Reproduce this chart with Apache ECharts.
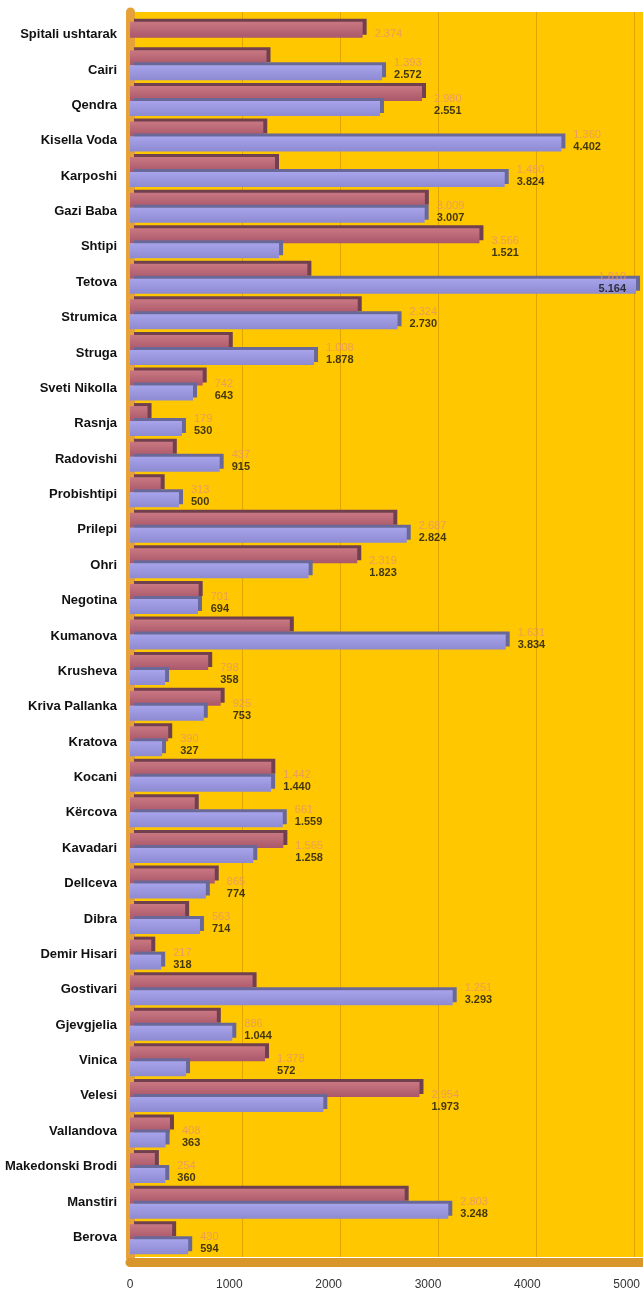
<!DOCTYPE html>
<html>
<head>
<meta charset="utf-8">
<title>Spitalet</title>
<script src="https://cdn.jsdelivr.net/npm/echarts@6/dist/echarts.min.js"></script>
<style>
  html, body { margin: 0; padding: 0; background: #fff; }
  #main { width: 643px; height: 1295px; }
</style>
</head>
<body>
<div id="main"></div>
<script>
var categories = ["Spitali ushtarak", "Cairi", "Qendra", "Kisella Voda", "Karposhi", "Gazi Baba", "Shtipi",
  "Tetova", "Strumica", "Struga", "Sveti Nikolla", "Rasnja", "Radovishi", "Probishtipi", "Prilepi", "Ohri",
  "Negotina", "Kumanova", "Krusheva", "Kriva Pallanka", "Kratova", "Kocani", "Kërcova", "Kavadari",
  "Dellceva", "Dibra", "Demir Hisari", "Gostivari", "Gjevgjelia", "Vinica", "Velesi", "Vallandova",
  "Makedonski Brodi", "Manstiri", "Berova"];
var redValues = [2374, 1393, 2980, 1360, 1480, 3009, 3566, 1810, 2324, 1008, 742, 179, 437, 313, 2687, 2319,
  701, 1631, 798, 925, 390, 1442, 661, 1565, 865, 563, 217, 1251, 886, 1378, 2954, 408, 254, 2803, 430];
var blueValues = [null, 2572, 2551, 4402, 3824, 3007, 1521, 5164, 2730, 1878, 643, 530, 915, 500, 2824, 1823,
  694, 3834, 358, 753, 327, 1440, 1559, 1258, 774, 714, 318, 3293, 1044, 572, 1973, 363, 360, 3248, 594];
var tickValues = [0, 1000, 2000, 3000, 4000, 5000];

var font = "'Liberation Sans', Arial, sans-serif";

// 2.374 style numbers
function fmt(v) {
  if (v >= 1000) {
    var rest = String(v % 1000);
    while (rest.length < 3) rest = "0" + rest;
    return Math.floor(v / 1000) + "." + rest;
  }
  return String(v);
}

// rows with only one value get a single centered bar
var redPaired = redValues.map(function (v, i) { return blueValues[i] == null ? null : v; });
var redSolo = redValues.map(function (v, i) { return blueValues[i] == null ? v : null; });

// one label point per row, placed after the longer bar
var labelPoints = categories.map(function (c, i) {
  var m = Math.max(redValues[i], blueValues[i] || 0);
  var item = { value: [m, i] };
  if (m > 4800) {
    item.label = { position: "left", distance: 10 };
  }
  return item;
});

var redStyle = {
  color: new echarts.graphic.LinearGradient(0, 0, 0, 1, [
    { offset: 0, color: "#C97882" },
    { offset: 1, color: "#A9576A" }
  ]),
  shadowColor: "#70404E",
  shadowBlur: 0,
  shadowOffsetX: 4,
  shadowOffsetY: -3
};
var blueStyle = {
  color: new echarts.graphic.LinearGradient(0, 0, 0, 1, [
    { offset: 0, color: "#A8A4EC" },
    { offset: 1, color: "#8D8AD2" }
  ]),
  shadowColor: "#6A6898",
  shadowBlur: 0,
  shadowOffsetX: 4,
  shadowOffsetY: -3
};

var myChart = echarts.init(document.getElementById("main"));
var option = {
  animation: false,
  grid: [
    { left: 130, right: 0, top: 12, bottom: 38, show: true, backgroundColor: "#FFC700", borderWidth: 0 },
    { left: 242, right: 0, top: 12, bottom: 38, show: false },
    { left: 130, right: 0, top: 12, bottom: 38, show: false },
    { left: 130, right: 0, top: 17, bottom: 40, show: false }
  ],
  xAxis: [
    {
      gridIndex: 0, type: "value", min: 0, max: 5235,
      offset: 5,
      axisLine: { show: true, lineStyle: { color: "#D9962B", width: 9 } },
      axisTick: { show: false }, axisLabel: { show: false }, splitLine: { show: false }
    },
    {
      // grid lines on the back wall
      gridIndex: 1, type: "value", min: 1000, max: 5092, interval: 1000,
      axisLine: { show: false }, axisTick: { show: false }, axisLabel: { show: false },
      splitLine: { show: true, lineStyle: { color: "#E0A600", width: 1 } }
    },
    {
      gridIndex: 2, type: "value", min: 0, max: 5160, interval: 1000,
      axisLine: { show: false }, axisTick: { show: false }, splitLine: { show: false },
      axisLabel: {
        margin: 22, fontSize: 12, color: "#333", fontFamily: font,
        customValues: tickValues,
        formatter: function (v) { return String(v); }
      }
    },
    { gridIndex: 3, type: "value", show: false }
  ],
  yAxis: [
    {
      gridIndex: 0, type: "category", data: categories, inverse: true,
      offset: 5,
      axisLine: { show: true, lineStyle: { color: "#E6A238", width: 9 } },
      axisTick: { show: false },
      axisLabel: { show: false }
    },
    { gridIndex: 1, type: "value", show: false },
    { gridIndex: 2, type: "value", show: false },
    {
      // category names sit a little lower than the bars
      gridIndex: 3, type: "category", data: categories, inverse: true,
      offset: 5,
      axisLine: { show: false }, axisTick: { show: false },
      axisLabel: { margin: 8, fontSize: 13, fontWeight: "bold", color: "#111", fontFamily: font }
    },
    {
      gridIndex: 0, type: "category", data: categories, inverse: true, show: false
    }
  ],
  series: [
    {
      name: "red",
      type: "bar",
      xAxisIndex: 0, yAxisIndex: 0,
      data: redPaired,
      barWidth: 15,
      barGap: "0%",
      itemStyle: redStyle
    },
    {
      name: "blue",
      type: "bar",
      xAxisIndex: 0, yAxisIndex: 0,
      data: blueValues,
      barWidth: 15,
      barGap: "0%",
      itemStyle: blueStyle
    },
    {
      name: "red solo",
      type: "bar",
      xAxisIndex: 0, yAxisIndex: 4,
      data: redSolo,
      barWidth: 16,
      itemStyle: redStyle
    },
    {
      name: "labels",
      type: "scatter",
      xAxisIndex: 0, yAxisIndex: 0,
      symbolSize: 0,
      data: labelPoints,
      label: {
        show: true,
        position: "right",
        distance: 12,
        offset: [0, 4],
        formatter: function (p) {
          var i = p.dataIndex;
          var s = "{r|" + fmt(redValues[i]) + "}";
          if (blueValues[i] != null) s += "\n{b|" + fmt(blueValues[i]) + "}";
          return s;
        },
        rich: {
          r: { color: "#E2956F", fontSize: 11, lineHeight: 12, fontFamily: font },
          b: { color: "#111", fontSize: 11, lineHeight: 12, fontWeight: "bold", fontFamily: font }
        }
      }
    }
  ]
};
myChart.setOption(option);
</script>
</body>
</html>
